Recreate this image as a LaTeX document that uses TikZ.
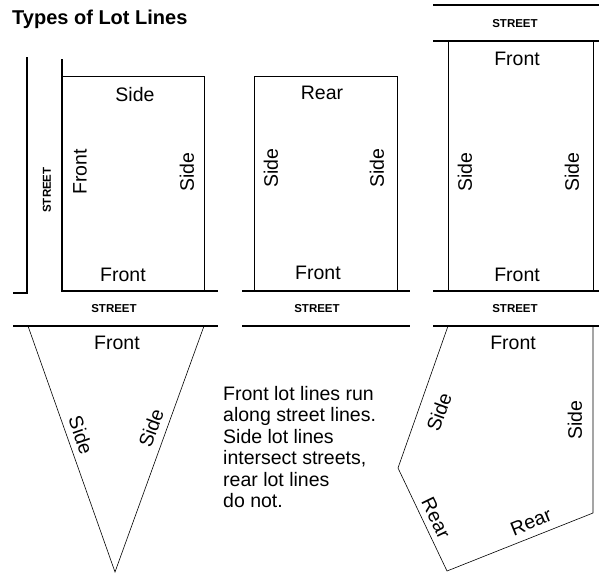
\documentclass[tikz,border=0pt]{standalone}
\usepackage{fontspec}
\setmainfont{Liberation Sans}
\usepackage{tikz}
\usetikzlibrary{positioning}

\tikzset{
  street/.style={line width=2.8pt},
  lotline/.style={line width=0.6pt},
  lbl/.style={font=\fontsize{19.5}{21.5}\selectfont, inner sep=0pt},
  streetlbl/.style={font=\fontsize{11.5}{13}\selectfont\bfseries, inner sep=0pt}
}

\begin{document}
\begin{tikzpicture}[x=1pt,y=-1pt]
        \useasboundingbox (0,0) rectangle (599,573);
        \node[font=\fontsize{20}{22}\selectfont\bfseries, inner sep=0pt, anchor=west] (title) at (12,19) {Types of Lot Lines};

        % Lot 1 : corner lot
        \draw[street] (13,293) -- (27,293) -- (27,57);
        \draw[street] (62,59) -- (62,291) -- (218,291);
        \draw[lotline] (62,76) -- (204,76) -- (204,291);
        \node[streetlbl, rotate=90] (streetA) at (47,190) {STREET};
        \node[lbl] (sideA1) at (135,95) {Side};
        \node[lbl, rotate=90] (frontA1) at (80,172) {Front};
        \node[lbl, rotate=90] (sideA2) at (187,172) {Side};
        \node[lbl] (frontA2) at (123,275) {Front};

        % Lot 2 : interior lot
        \draw[street] (242,291) -- (410,291);
        \draw[lotline] (254,291) -- (254,76) -- (397,76) -- (397,291);
        \node[lbl] (rearB) at (322,93) {Rear};
        \node[lbl, rotate=90] (sideB1) at (271,168) {Side};
        \node[lbl, rotate=90] (sideB2) at (377,168) {Side};
        \node[lbl] (frontB) at (318,273) {Front};

        % Lot 3 : through lot
        \draw[street] (433,5) -- (599,5);
        \draw[street] (433,41) -- (599,41);
        \draw[street] (433,291) -- (599,291);
        \draw[lotline] (448,41) -- (448,291);
        \draw[lotline] (593,41) -- (593,291);
        \node[streetlbl] (streetC) at (515,24) {STREET};
        \node[lbl] (frontC1) at (517,59) {Front};
        \node[lbl, rotate=90] (sideC1) at (465,172) {Side};
        \node[lbl, rotate=90] (sideC2) at (572,172) {Side};
        \node[lbl] (frontC2) at (517,275) {Front};

        % middle street band
        \node[streetlbl] (streetM1) at (114,309) {STREET};
        \node[streetlbl] (streetM2) at (317,309) {STREET};
        \node[streetlbl] (streetM3) at (515,309) {STREET};
        \draw[street] (13,326) -- (218,326);
        \draw[street] (242,326) -- (410,326);
        \draw[street] (433,326) -- (599,326);

        % Lot 4 : triangle lot
        \draw[lotline] (28,326) -- (115,572) -- (204,326);
        \node[lbl] (frontD) at (117,343) {Front};
        \node[lbl, rotate=-71] (sideD1) at (81,435) {Side};
        \node[lbl, rotate=70] (sideD2) at (151,428) {Side};

        % Lot 5 : irregular lot
        \draw[lotline] (448,326) -- (398,468) -- (447,571) -- (593,513) -- (593,326);
        \node[lbl] (frontE) at (513,343) {Front};
        \node[lbl, rotate=70] (sideE1) at (439,412) {Side};
        \node[lbl, rotate=90] (sideE2) at (575,420) {Side};
        \node[lbl, rotate=-64] (rearE1) at (436,518) {Rear};
        \node[lbl, rotate=22] (rearE2) at (531,522) {Rear};

        \node[lbl, align=left, anchor=north west] (note) at (223,386)
          {Front lot lines run\\along street lines.\\Side lot lines\\intersect streets,\\rear lot lines\\do not.};
      \end{tikzpicture}
\end{document}
